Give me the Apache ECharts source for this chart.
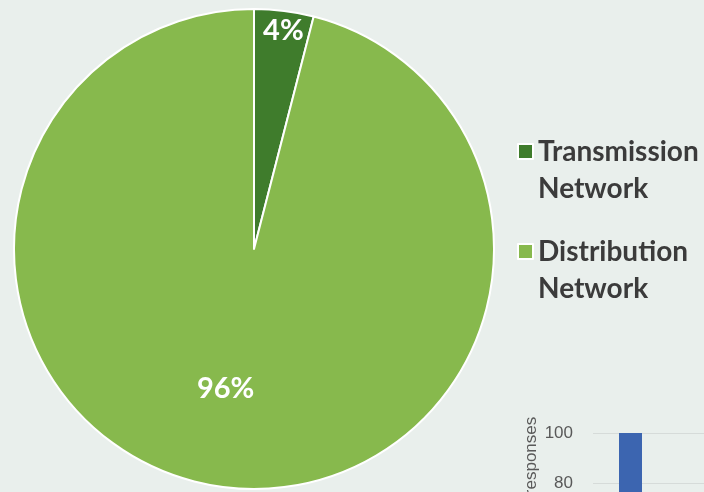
<!DOCTYPE html>
<html>
<head>
<meta charset="utf-8">
<script src="https://cdn.jsdelivr.net/npm/echarts@6/dist/echarts.min.js"></script>
<style>
html,body{margin:0;padding:0;background:#e9efec;}
#c{width:704px;height:492px;}
</style>
</head>
<body>
<div id="c"></div>
<script>
// Pie data
var pieNames = ['Transmission\nNetwork', 'Distribution\nNetwork'];
var pieValues = [4, 96];
var pieColors = ['#3f7c2c', '#87b94d'];
// Partial bar chart (bottom right, mostly cropped)
var barCategories = ['1', '2', '3', '4'];
var barValues = [100, null, null, null];
var barTicks = [0, 20, 40, 60, 80, 100];

var labelShift = [[14, -96], [-13, 18]];

var chart = echarts.init(document.getElementById('c'), null, {renderer: 'canvas'});
chart.setOption({
  backgroundColor: '#e9efec',
  animation: false,
  legend: {
    orient: 'vertical',
    left: 512,
    top: 91,
    itemWidth: 15,
    itemHeight: 15,
    itemGap: -11,
    icon: 'rect',
    data: pieNames,
    formatter: function (name) { return '\n' + name; },
    textStyle: {
      fontFamily: 'Lato',
      fontWeight: 'bold',
      fontSize: 28,
      lineHeight: 37,
      color: '#3b3b3b'
    }
  },
  grid: {
    left: 593,
    top: 433,
    width: 300,
    height: 250,
    outerBoundsMode: 'none',
    containLabel: false
  },
  xAxis: {
    type: 'category',
    data: barCategories,
    axisLine: {show: false},
    axisTick: {show: false},
    axisLabel: {show: false}
  },
  yAxis: {
    type: 'value',
    min: barTicks[0],
    max: barTicks[barTicks.length - 1],
    interval: barTicks[1] - barTicks[0],
    name: 'Number of responses',
    nameLocation: 'middle',
    nameRotate: 90,
    nameGap: 53,
    nameTextStyle: {
      fontFamily: 'Liberation Sans',
      fontSize: 17,
      color: '#595959',
      padding: [0, 0, 0, 120]
    },
    axisLine: {show: false},
    axisTick: {show: false},
    axisLabel: {
      margin: 20,
      fontFamily: 'Liberation Sans',
      fontSize: 17,
      color: '#595959'
    },
    splitLine: {lineStyle: {color: '#d6dbd9', width: 1}}
  },
  series: [
    {
      type: 'pie',
      center: [254, 249],
      radius: [0, 240],
      startAngle: 90,
      clockwise: true,
      data: pieNames.map(function (n, i) {
        return {name: n, value: pieValues[i], itemStyle: {color: pieColors[i]}};
      }),
      itemStyle: {borderColor: '#ffffff', borderWidth: 2},
      label: {
        show: true,
        position: 'inside',
        formatter: '{d}%',
        color: '#ffffff',
        fontFamily: 'Lato',
        fontWeight: 'bold',
        fontSize: 29
      },
      labelLayout: function (p) {
        var s = labelShift[p.dataIndex];
        return {dx: s[0], dy: s[1]};
      },
      labelLine: {show: false},
      emphasis: {disabled: true}
    },
    {
      type: 'bar',
      data: barValues,
      barWidth: 23,
      itemStyle: {color: '#3c65b0'}
    }
  ]
});
</script>
</body>
</html>
